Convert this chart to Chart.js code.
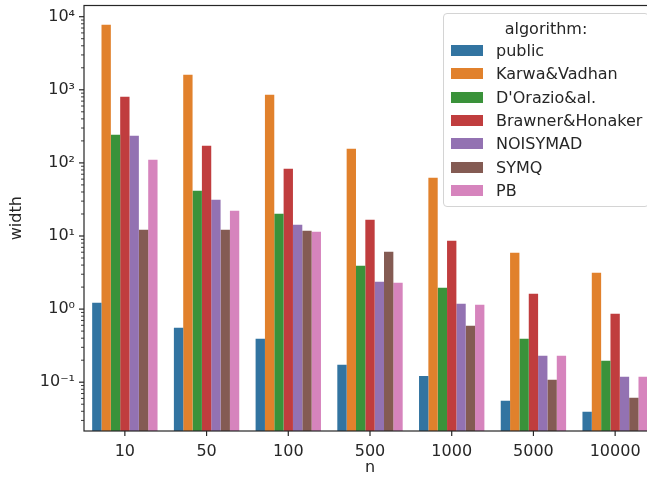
<!DOCTYPE html>
<html>
<head>
<meta charset="utf-8">
<script src="https://cdn.jsdelivr.net/npm/chart.js@4.4.0/dist/chart.umd.min.js"></script>
<style>
  html, body { margin: 0; padding: 0; background: #fff; overflow: hidden; }
  #wrap { position: relative; width: 647px; height: 480px; overflow: hidden; }
  #legend {
    position: absolute; left: 443px; top: 13px; width: 206px; height: 194px;
    box-sizing: border-box; border: 1px solid #d4d4d4; border-radius: 4px;
    background: rgba(255, 255, 255, 0.8);
    font-family: "DejaVu Sans"; font-size: 16px; color: #262626;
  }
  #legend .title { position: absolute; left: 0; width: 100%; top: 5px; line-height: 20px; text-align: center; }
  #legend .row { position: absolute; left: 0; height: 20px; line-height: 20px; white-space: nowrap; }
  #legend .patch { position: absolute; left: 7px; top: 4px; width: 32px; height: 11px; }
  #legend .label { position: absolute; left: 52px; top: 0; }
</style>
</head>
<body>
<div id="wrap">
  <canvas id="myChart" width="656" height="480"></canvas>
  <div id="legend"></div>
</div>
<script>
// x categories
const nValues = ['10', '50', '100', '500', '1000', '5000', '10000'];

// series
const algorithms = ['public', 'Karwa&Vadhan', "D'Orazio&al.", 'Brawner&Honaker', 'NOISYMAD', 'SYMQ', 'PB'];
const publicWidth = [1.22, 0.555, 0.392, 0.173, 0.122, 0.0557, 0.0394];
const karwaVadhanWidth = [7745, 1604, 853, 156, 62.5, 5.89, 3.14];
const dOrazioWidth = [242, 41.5, 20.1, 3.91, 1.96, 0.392, 0.196];
const brawnerHonakerWidth = [802, 171, 83, 16.7, 8.6, 1.62, 0.863];
const noisymadWidth = [235, 31.3, 14.2, 2.36, 1.18, 0.230, 0.119];
const symqWidth = [12.2, 12.2, 11.8, 6.08, 0.591, 0.108, 0.0612];
const pbWidth = [110, 22.1, 11.4, 2.29, 1.15, 0.230, 0.119];

const seriesValues = [publicWidth, karwaVadhanWidth, dOrazioWidth, brawnerHonakerWidth, noisymadWidth, symqWidth, pbWidth];
const colors = ['#3274a1', '#e1812c', '#3a923a', '#c03d3e', '#9372b2', '#845b53', '#d684bd'];

// y axis range (log)
const yMin = 0.0215;
const yMax = 14230;

const sup = { '-': '\u207b', '0': '\u2070', '1': '\u00b9', '2': '\u00b2', '3': '\u00b3', '4': '\u2074' };

function isPowerOfTen(v) {
    let e = Math.round(Math.log10(v));
    return Math.abs(v - Math.pow(10, e)) / v < 1e-9;
}

function powLabel(v) {
    let e = String(Math.round(Math.log10(v)));
    return '10' + e.split('').map(c => sup[c]).join('');
}

Chart.defaults.font.family = 'DejaVu Sans';
Chart.defaults.font.size = 16;
Chart.defaults.color = '#262626';

const frameAndTicks = {
    id: 'frameAndTicks',
    afterDraw(chart) {
        let ctx = chart.ctx;
        let a = chart.chartArea;
        let ys = chart.scales.y;
        let xs = chart.scales.x;
        ctx.save();
        ctx.strokeStyle = '#262626';
        ys.ticks.forEach(t => {
            let y = ys.getPixelForValue(t.value);
            let major = isPowerOfTen(t.value);
            ctx.lineWidth = major ? 1.2 : 0.9;
            let len = major ? 5 : 3;
            ctx.beginPath();
            ctx.moveTo(a.left - len, y);
            ctx.lineTo(a.left, y);
            ctx.stroke();
        });
        ctx.lineWidth = 1.2;
        xs.ticks.forEach((t, i) => {
            let x = xs.getPixelForTick(i);
            ctx.beginPath();
            ctx.moveTo(x, a.bottom);
            ctx.lineTo(x, a.bottom + 5);
            ctx.stroke();
        });
        ctx.lineWidth = 1.2;
        ctx.strokeRect(a.left, a.top, a.right - a.left, a.bottom - a.top);
        ctx.restore();
    }
};

function noPadding(scale) {
    scale.paddingTop = 0;
    scale.paddingBottom = 0;
    scale.paddingLeft = 0;
    scale.paddingRight = 0;
}

function buildDatasets() {
    return algorithms.map((name, i) => ({
        label: name,
        data: seriesValues[i],
        backgroundColor: colors[i],
        borderWidth: 0,
        categoryPercentage: 0.8,
        barPercentage: 1.0
    }));
}

function fillLegend() {
    let legend = document.getElementById('legend');
    let html = '<div class="title">algorithm:</div>';
    algorithms.forEach((name, i) => {
        let top = 27 + i * 23.35;
        html += `<div class="row" style="top:${top}px">
            <div class="patch" style="background:${colors[i]}"></div>
            <div class="label">${name.replace(/&/g, '&amp;')}</div>
        </div>`;
    });
    legend.innerHTML = html;
}

var ctx = document.getElementById('myChart').getContext('2d');
var myChart = new Chart(ctx, {
    type: 'bar',
    data: {
        labels: nValues,
        datasets: buildDatasets()
    },
    options: {
        responsive: false,
        animation: false,
        layout: {
            autoPadding: false,
            padding: { top: 5.5, right: 0, bottom: 0, left: 0 }
        },
        plugins: {
            legend: { display: false },
            tooltip: { enabled: false }
        },
        scales: {
            x: {
                grid: { display: false, drawTicks: false },
                border: { display: false },
                ticks: { padding: 11, autoSkip: false, maxRotation: 0 },
                title: { display: true, text: 'n', padding: { top: 0, bottom: 3 } },
                afterFit: function (scale) {
                    scale.height = 49;
                    noPadding(scale);
                }
            },
            y: {
                type: 'logarithmic',
                min: yMin,
                max: yMax,
                grid: { display: false, drawTicks: false },
                border: { display: false },
                ticks: {
                    padding: 9,
                    autoSkip: false,
                    callback: function (value) {
                        return isPowerOfTen(value) ? powLabel(value) : '';
                    }
                },
                afterBuildTicks: function (scale) {
                    let ticks = [];
                    for (let e = -2; e <= 4; e++) {
                        for (let s = 1; s <= 9; s++) {
                            let v = s * Math.pow(10, e);
                            if (v >= yMin && v <= yMax) ticks.push({ value: v });
                        }
                    }
                    scale.ticks = ticks;
                },
                title: { display: true, text: 'width', padding: { top: 7, bottom: 7 } },
                afterFit: function (scale) {
                    scale.width = 84;
                    noPadding(scale);
                }
            }
        }
    },
    plugins: [frameAndTicks]
});

fillLegend();
</script>
</body>
</html>
